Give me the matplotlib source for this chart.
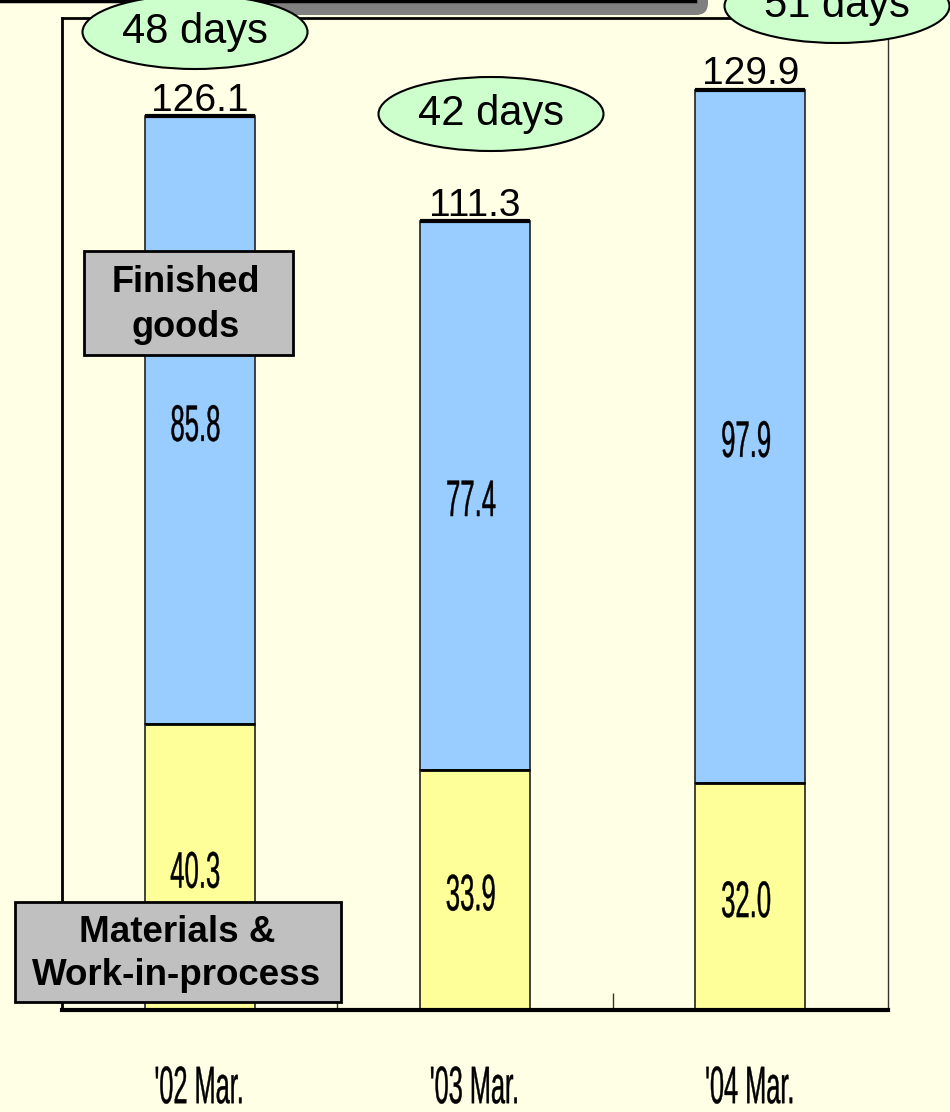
import matplotlib
matplotlib.use('Agg')
import matplotlib.pyplot as plt
from matplotlib.patches import Ellipse, Rectangle, FancyBboxPatch
from matplotlib.patheffects import AbstractPathEffect
from matplotlib.transforms import Affine2D
import numpy as np

periods = ["'02 Mar.", "'03 Mar.", "'04 Mar."]
materials_wip = [40.3, 33.9, 32.0]
finished_goods = [85.8, 77.4, 97.9]
totals = [126.1, 111.3, 129.9]
turnover_days = ['48 days', '42 days', '51 days']

bg = '#FFFFE5'
blue = '#99CCFF'
yellow = '#FFFF99'
green = '#CCFFCC'
box_gray = '#C0C0C0'

plain = ['Liberation Sans', 'DejaVu Sans']


class Squeeze(AbstractPathEffect):
    # draws the text glyphs narrower (the slide used a condensed face)
    def __init__(self, sx, lw=0.0):
        super().__init__()
        self.sx = sx
        self.lw = lw

    def draw_path(self, renderer, gc, tpath, affine, rgbFace=None):
        ext = tpath.get_extents()
        cx = (ext.x0 + ext.x1) / 2
        sq = Affine2D().translate(-cx, 0).scale(self.sx, 1).translate(cx, 0)
        gc0 = renderer.new_gc()
        gc0.copy_properties(gc)
        if self.lw and rgbFace is not None:
            gc0.set_linewidth(self.lw)
            gc0.set_foreground(rgbFace)
        renderer.draw_path(gc0, tpath, sq + affine, rgbFace)
        gc0.restore()


W, H = 950, 1112
fig = plt.figure(figsize=(W / 100, H / 100), dpi=100, facecolor=bg)
# pixel coords of the picture (y down) -> display
img = Affine2D().scale(1 / 100, -1 / 100).translate(0, H / 100) + fig.dpi_scale_trans

ax = fig.add_axes([62 / W, 1 - 1010 / H, (888 - 62) / W, (1010 - 18) / H])
ax.set_facecolor(bg)

x = np.arange(len(periods))
bw = 0.4
ax.bar(x, materials_wip, bw, color=yellow, edgecolor='#222222', linewidth=1.2, zorder=2)
ax.bar(x, finished_goods, bw, bottom=materials_wip, color=blue,
       edgecolor='#222222', linewidth=1.2, zorder=2)
ax.hlines(materials_wip, x - bw / 2, x + bw / 2, color='black', lw=2, zorder=3)
ax.hlines(totals, x - bw / 2, x + bw / 2, color='black', lw=3, zorder=3)

narrow_fx = [Squeeze(0.5, lw=0.3)]
for i in x:
    ax.annotate(f'{materials_wip[i]:.1f}', (i, materials_wip[i] / 2), xytext=(-3, -5),
                textcoords='offset points', ha='center', va='center', fontsize=37,
                family=plain, zorder=4, path_effects=narrow_fx)
    ax.annotate(f'{finished_goods[i]:.1f}', (i, materials_wip[i] + finished_goods[i] / 2),
                xytext=(-3, -5), textcoords='offset points', ha='center', va='center',
                fontsize=37, family=plain, zorder=4, path_effects=narrow_fx)
    ax.annotate(f'{totals[i]:.1f}', (i, totals[i]), xytext=(0, 4), textcoords='offset points',
                ha='center', va='baseline', fontsize=28, family=plain, zorder=4)

ax.set_xlim(-0.5, 2.5)
ax.set_ylim(0, 140)
ax.set_yticks([])
ax.set_xticks(x)
ax.set_xticklabels(periods, fontsize=38, fontfamily=plain)
for lab in ax.get_xticklabels():
    lab.set_path_effects([Squeeze(0.48, lw=0.3)])
ax.set_xticks([0.5, 1.5], minor=True)
ax.tick_params(axis='x', which='major', length=0, pad=39)
ax.tick_params(axis='x', which='minor', length=12, width=1, direction='in', color='#333333')

for side in ['left', 'top']:
    ax.spines[side].set_linewidth(2)
    ax.spines[side].set_color('black')
ax.spines['right'].set_linewidth(1)
ax.spines['right'].set_color('#333333')
ax.spines['bottom'].set_linewidth(3)
ax.spines['bottom'].set_color('black')

# bits of the slide frame above the chart
fig.add_artist(FancyBboxPatch((250, -20), 458, 35, boxstyle='round,pad=0,rounding_size=12',
                              transform=img, facecolor='#808080', edgecolor='none', zorder=3))
fig.add_artist(plt.Line2D([0, 695], [1, 1], transform=img, color='black', lw=2.5, zorder=3))

# turnover bubbles
bubbles = [(195, 32), (491, 114), (837, 6)]
for (cx, cy), lab in zip(bubbles, turnover_days):
    fig.add_artist(Ellipse((cx, cy), 225, 74, transform=img, facecolor=green,
                           edgecolor='black', lw=1.5, zorder=5))
    fig.text(cx, cy, lab, transform=img, ha='center', va='center', fontsize=30,
             family=plain, zorder=6)

# series name boxes
fig.add_artist(Rectangle((84, 251), 209, 104, transform=img, facecolor=box_gray,
                         edgecolor='black', lw=2, zorder=5))
fig.text(186, 305, 'Finished\ngoods', transform=img, ha='center', va='center', fontsize=26,
         fontweight='bold', family=plain, linespacing=1.35, zorder=6)
fig.add_artist(Rectangle((15, 902), 326, 100, transform=img, facecolor=box_gray,
                         edgecolor='black', lw=2, zorder=5))
fig.text(177, 954, 'Materials &\nWork-in-process', transform=img, ha='center', va='center',
         fontsize=26.5, fontweight='bold', family=plain, linespacing=1.3, zorder=6)

fig.savefig('out.png', dpi=100, facecolor=bg)
